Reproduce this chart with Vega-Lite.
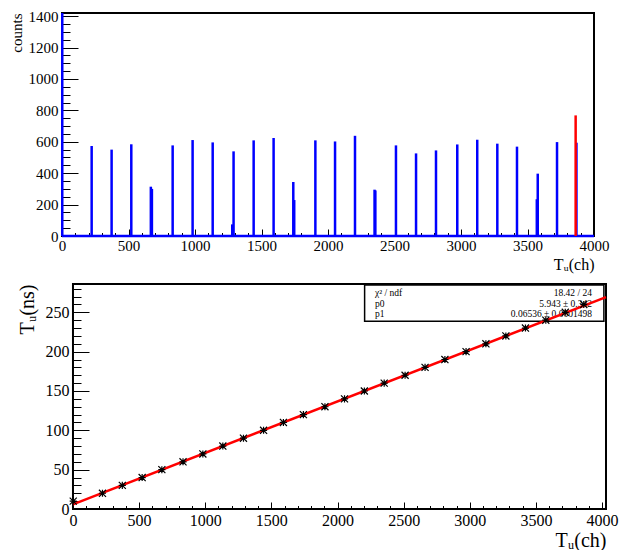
{
  "$schema": "https://vega.github.io/schema/vega-lite/v6.json",
  "background": "white",
  "padding": {"left": 8, "top": 8, "right": 0, "bottom": 0},
  "config": {
    "font": "Liberation Serif",
    "view": {"stroke": "black", "strokeWidth": 2},
    "axis": {"labelFont": "Liberation Serif", "titleFont": "Liberation Serif", "labelColor": "black", "titleColor": "black", "tickColor": "black", "tickWidth": 1, "titleFontWeight": "normal", "grid": false, "domain": false, "labelFlush": false},
    "text": {"font": "Liberation Serif"}
  },
  "datasets": {
    "spikes": [
      {"ch": 2, "n": 1420}, {"ch": 223, "n": 573}, {"ch": 373, "n": 550}, {"ch": 521, "n": 584},
      {"ch": 668, "n": 314}, {"ch": 676, "n": 300}, {"ch": 832, "n": 577}, {"ch": 982, "n": 611},
      {"ch": 1133, "n": 596}, {"ch": 1280, "n": 74}, {"ch": 1290, "n": 539}, {"ch": 1441, "n": 609},
      {"ch": 1591, "n": 624}, {"ch": 1739, "n": 344}, {"ch": 1746, "n": 229}, {"ch": 1905, "n": 609},
      {"ch": 2053, "n": 602}, {"ch": 2203, "n": 638}, {"ch": 2350, "n": 295}, {"ch": 2356, "n": 290},
      {"ch": 2511, "n": 577}, {"ch": 2662, "n": 526}, {"ch": 2812, "n": 545}, {"ch": 2972, "n": 583},
      {"ch": 3122, "n": 613}, {"ch": 3273, "n": 588}, {"ch": 3421, "n": 569}, {"ch": 3570, "n": 234},
      {"ch": 3577, "n": 397}, {"ch": 3722, "n": 598}, {"ch": 3868, "n": 594}
    ],
    "points": [
      {"ch": 2, "t": 10}, {"ch": 223, "t": 20}, {"ch": 373, "t": 30}, {"ch": 523, "t": 40},
      {"ch": 672, "t": 50}, {"ch": 832, "t": 60}, {"ch": 982, "t": 70}, {"ch": 1133, "t": 80},
      {"ch": 1289, "t": 90}, {"ch": 1441, "t": 100}, {"ch": 1591, "t": 110}, {"ch": 1742, "t": 120},
      {"ch": 1905, "t": 130}, {"ch": 2053, "t": 140}, {"ch": 2203, "t": 150}, {"ch": 2353, "t": 160},
      {"ch": 2511, "t": 170}, {"ch": 2662, "t": 180}, {"ch": 2812, "t": 190}, {"ch": 2972, "t": 200},
      {"ch": 3122, "t": 210}, {"ch": 3273, "t": 220}, {"ch": 3421, "t": 230}, {"ch": 3575, "t": 240},
      {"ch": 3722, "t": 250}, {"ch": 3862, "t": 260}
    ]
  },
  "vconcat": [
    {
      "width": 532,
      "height": 223,
      "layer": [
        {
          "data": {"values": [{"x0": 0, "x1": 4000, "y": 0}]},
          "mark": {"type": "rule", "color": "#0000ff", "strokeWidth": 2.5},
          "encoding": {
            "x": {"field": "x0", "type": "quantitative", "scale": {"domain": [0, 4000], "nice": false, "zero": false},
              "axis": {"orient": "bottom", "values": [0, 500, 1000, 1500, 2000, 2500, 3000, 3500, 4000], "format": "d", "tickSize": -7, "labelPadding": 9, "labelFontSize": 15, "title": "Tᵤ(ch)", "titleFontSize": 16, "titleAnchor": "end", "titlePadding": 3}},
            "x2": {"field": "x1"},
            "y": {"field": "y", "type": "quantitative", "scale": {"domain": [0, 1420], "nice": false, "zero": false},
              "axis": {"orient": "left", "values": [0, 200, 400, 600, 800, 1000, 1200, 1400], "format": "d", "tickSize": -16, "labelPadding": 20, "labelFontSize": 15, "title": "counts", "titleFontSize": 15, "titleAnchor": "end", "titlePadding": 4}}
          }
        },
        {
          "data": {"name": "spikes"},
          "mark": {"type": "rule", "color": "#0000ff", "strokeWidth": 2.5},
          "encoding": {
            "x": {"field": "ch", "type": "quantitative", "scale": {"domain": [0, 4000], "nice": false, "zero": false}, "axis": null},
            "y": {"field": "n", "type": "quantitative", "scale": {"domain": [0, 1420], "nice": false, "zero": false}, "axis": null},
            "y2": {"datum": 0}
          }
        },
        {
          "data": {"values": [{"ch": 3862, "n": 768}]},
          "mark": {"type": "rule", "color": "#ff0000", "strokeWidth": 2.5},
          "encoding": {
            "x": {"field": "ch", "type": "quantitative", "scale": {"domain": [0, 4000], "nice": false, "zero": false}, "axis": null},
            "y": {"field": "n", "type": "quantitative", "scale": {"domain": [0, 1420], "nice": false, "zero": false}, "axis": null},
            "y2": {"datum": 0}
          }
        },
        {
          "data": {"values": [{"x": 0, "y": 0}]},
          "mark": {"type": "point", "opacity": 0},
          "encoding": {
            "x": {"field": "x", "type": "quantitative", "scale": {"domain": [0, 4000], "nice": false, "zero": false},
              "axis": {"orient": "bottom", "values": [0,100,200,300,400,500,600,700,800,900,1000,1100,1200,1300,1400,1500,1600,1700,1800,1900,2000,2100,2200,2300,2400,2500,2600,2700,2800,2900,3000,3100,3200,3300,3400,3500,3600,3700,3800,3900,4000], "tickSize": -3.5, "labels": false, "title": null}},
            "y": {"field": "y", "type": "quantitative", "scale": {"domain": [0, 1420], "nice": false, "zero": false},
              "axis": {"orient": "left", "values": [0,50,100,150,200,250,300,350,400,450,500,550,600,650,700,750,800,850,900,950,1000,1050,1100,1150,1200,1250,1300,1350,1400], "tickSize": -8, "labels": false, "title": null}}
          }
        }
      ],
      "resolve": {"axis": {"x": "independent", "y": "independent"}}
    },
    {
      "width": 544,
      "height": 225,
      "view": {"stroke": null},
      "layer": [
        {
          "data": {"values": [{"x1": 0, "x2": 4030, "y1": 0, "y2": 286}]},
          "mark": {"type": "rect", "fill": null, "fillOpacity": 0, "stroke": "black", "strokeWidth": 2},
          "encoding": {
            "x": {"field": "x1", "type": "quantitative", "scale": {"domain": [-83, 4030], "nice": false, "zero": false},
              "axis": {"orient": "bottom", "values": [0, 500, 1000, 1500, 2000, 2500, 3000, 3500, 4000], "format": "d", "tickSize": -7, "labelPadding": 10, "labelFontSize": 16, "title": "Tᵤ(ch)", "titleFontSize": 20, "titleAnchor": "end", "titlePadding": 2}},
            "x2": {"field": "x2"},
            "y": {"field": "y1", "type": "quantitative", "scale": {"domain": [0, 286], "nice": false, "zero": false},
              "axis": {"orient": "left", "offset": -11, "values": [0, 50, 100, 150, 200, 250], "format": "d", "tickSize": -16, "labelPadding": 20, "labelFontSize": 16, "title": "Tᵤ(ns)", "titleFontSize": 20, "titleAnchor": "end", "titlePadding": 8}},
            "y2": {"field": "y2"}
          }
        },
        {
          "data": {"values": [{"x1": 2205, "x2": 4014, "y1": 238.6, "y2": 284.7}]},
          "mark": {"type": "rect", "fill": "white", "stroke": "black", "strokeWidth": 1.5},
          "encoding": {
            "x": {"field": "x1", "type": "quantitative", "scale": {"domain": [-83, 4030], "nice": false, "zero": false}, "axis": null},
            "x2": {"field": "x2"},
            "y": {"field": "y1", "type": "quantitative", "scale": {"domain": [0, 286], "nice": false, "zero": false}, "axis": null},
            "y2": {"field": "y2"}
          }
        },
        {
          "data": {"values": [
            {"x": 2283, "y": 270.7, "s": "χ² / ndf"},
            {"x": 2283, "y": 257.4, "s": "p0"},
            {"x": 2283, "y": 244.0, "s": "p1"}
          ]},
          "mark": {"type": "text", "align": "left", "baseline": "alphabetic", "fontSize": 9.5, "color": "black"},
          "encoding": {
            "x": {"field": "x", "type": "quantitative", "scale": {"domain": [-83, 4030], "nice": false, "zero": false}, "axis": null},
            "y": {"field": "y", "type": "quantitative", "scale": {"domain": [0, 286], "nice": false, "zero": false}, "axis": null},
            "text": {"field": "s"}
          }
        },
        {
          "data": {"values": [
            {"x": 3924, "y": 270.7, "s": "18.42 / 24"},
            {"x": 3924, "y": 257.4, "s": "5.943 ± 0.342"},
            {"x": 3924, "y": 244.0, "s": "0.06536 ± 0.0001498"}
          ]},
          "mark": {"type": "text", "align": "right", "baseline": "alphabetic", "fontSize": 9.5, "color": "black"},
          "encoding": {
            "x": {"field": "x", "type": "quantitative", "scale": {"domain": [-83, 4030], "nice": false, "zero": false}, "axis": null},
            "y": {"field": "y", "type": "quantitative", "scale": {"domain": [0, 286], "nice": false, "zero": false}, "axis": null},
            "text": {"field": "s"}
          }
        },
        {
          "data": {"values": [{"x": 0, "y": 5.943}, {"x": 4030, "y": 269.34}]},
          "mark": {"type": "line", "color": "#ff0000", "strokeWidth": 2.5},
          "encoding": {
            "x": {"field": "x", "type": "quantitative", "scale": {"domain": [-83, 4030], "nice": false, "zero": false}, "axis": null},
            "y": {"field": "y", "type": "quantitative", "scale": {"domain": [0, 286], "nice": false, "zero": false}, "axis": null}
          }
        },
        {
          "data": {"name": "points"},
          "mark": {"type": "point", "shape": "M-1,-1L1,1M-1,1L1,-1M-1,0L1,0M0,-1L0,1", "filled": false, "stroke": "black", "strokeWidth": 1.2, "size": 50, "opacity": 1},
          "encoding": {
            "x": {"field": "ch", "type": "quantitative", "scale": {"domain": [-83, 4030], "nice": false, "zero": false}, "axis": null},
            "y": {"field": "t", "type": "quantitative", "scale": {"domain": [0, 286], "nice": false, "zero": false}, "axis": null}
          }
        },
        {
          "data": {"values": [{"x": 0, "y": 0}]},
          "mark": {"type": "point", "opacity": 0},
          "encoding": {
            "x": {"field": "x", "type": "quantitative", "scale": {"domain": [-83, 4030], "nice": false, "zero": false},
              "axis": {"orient": "bottom", "values": [0,100,200,300,400,500,600,700,800,900,1000,1100,1200,1300,1400,1500,1600,1700,1800,1900,2000,2100,2200,2300,2400,2500,2600,2700,2800,2900,3000,3100,3200,3300,3400,3500,3600,3700,3800,3900,4000], "tickSize": -3.5, "labels": false, "title": null}},
            "y": {"field": "y", "type": "quantitative", "scale": {"domain": [0, 286], "nice": false, "zero": false},
              "axis": {"orient": "left", "offset": -11, "values": [0,10,20,30,40,50,60,70,80,90,100,110,120,130,140,150,160,170,180,190,200,210,220,230,240,250,260,270,280], "tickSize": -8, "labels": false, "title": null}}
          }
        }
      ],
      "resolve": {"axis": {"x": "independent", "y": "independent"}}
    }
  ],
  "spacing": 10
}
